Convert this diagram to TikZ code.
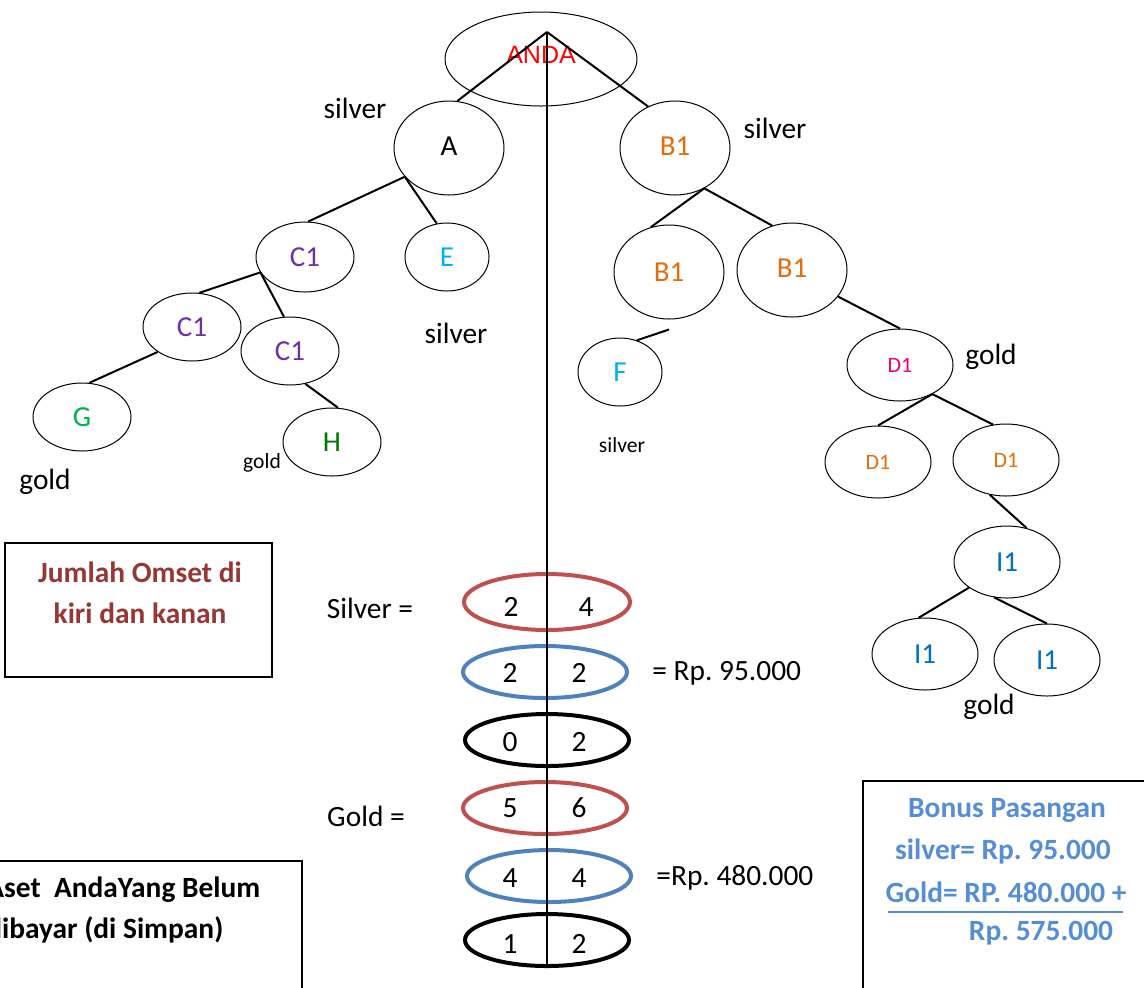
\documentclass[tikz,border=0pt]{standalone}
\usepackage{fontspec}
\setmainfont{Carlito}
\newfontfamily\arialf{Liberation Sans}
\usetikzlibrary{shapes.geometric}
\frenchspacing
\definecolor{andared}{RGB}{255,0,0}
\definecolor{borange}{RGB}{228,108,10}
\definecolor{cpurple}{RGB}{112,48,160}
\definecolor{ecyan}{RGB}{0,176,240}
\definecolor{ggreen}{RGB}{0,176,80}
\definecolor{hgreen}{RGB}{0,120,0}
\definecolor{dpink}{RGB}{240,0,120}
\definecolor{iblue}{RGB}{0,112,192}
\definecolor{jred}{RGB}{149,55,53}
\definecolor{bblue}{RGB}{85,142,213}
\definecolor{ringred}{RGB}{192,80,77}
\definecolor{ringblue}{RGB}{79,129,189}
\begin{document}
\frenchspacing
\begin{tikzpicture}[x=0.5pt,y=-0.5pt,
  tn/.style={ellipse, draw, line width=0.5pt, inner sep=0pt, font=\fontsize{14.5}{17}\selectfont},
  big/.style={minimum width=55pt, minimum height=47pt},
  mid/.style={minimum width=49pt, minimum height=34pt},
  sml/.style={minimum width=42pt, minimum height=34pt},
  dn/.style={minimum width=53pt, minimum height=36pt},
  dfont/.style={font=\fontsize{11}{13}\selectfont},
  conn/.style={line width=1pt},
  lbl/.style={font=\fontsize{14.7}{17}\selectfont, inner sep=0pt},
  slbl/.style={font=\fontsize{10.8}{13}\selectfont, inner sep=0pt},
  ring/.style={ellipse, draw, line width=2pt, inner sep=0pt, minimum width=82pt, minimum height=26pt},
  num/.style={font=\fontsize{14.7}{17}\selectfont, inner sep=0pt},
  boxtxt/.style={font=\fontsize{14.7}{20.5}\selectfont\bfseries, inner sep=0pt},
]
\useasboundingbox (0,0) rectangle (1144,987);
\clip (0,0) rectangle (1144,987);

% tree nodes
\node[tn, minimum width=96pt, minimum height=47pt, text=andared, font=\arialf\fontsize{12.5}{15}\selectfont, text depth=4pt] (anda) at (541,59) {ANDA};
\node[tn, big, text depth=2pt] (A) at (449,148) {A};
\node[tn, big, text=borange, text depth=2pt] (B1t) at (675,148) {B1};
\node[tn, mid, minimum height=35pt, text=cpurple] (C1) at (305,257) {C1};
\node[tn, sml, text=ecyan] (E) at (447,257) {E};
\node[tn, mid, text=cpurple] (C1L) at (192,327) {C1};
\node[tn, mid, text=cpurple] (C1R) at (290,351) {C1};
\node[tn, mid, text=ggreen] (G) at (82,417) {G};
\node[tn, mid, text=hgreen] (H) at (332,442) {H};
\node[tn, big, text=borange] (B1L) at (669,272) {B1};
\node[tn, big, text=borange, text depth=2pt] (B1R) at (792,270) {B1};
\node[tn, sml, text=ecyan] (F) at (620,372) {F};
\node[tn, dn, dfont, text=dpink] (D1) at (900,365) {D1};
\node[tn, dn, dfont, text=borange] (D1L) at (878,462) {D1};
\node[tn, dn, dfont, text=borange] (D1R) at (1006,460) {D1};
\node[tn, dn, text=iblue] (I1) at (1007,562) {I1};
\node[tn, dn, text=iblue] (I1L) at (925,654) {I1};
\node[tn, dn, text=iblue] (I1R) at (1047,660) {I1};

% rings
\node[ring, draw=ringred, minimum width=83pt, minimum height=28pt] (r1) at (547,602) {};
\node[ring, draw=ringblue] (r2) at (545,672) {};
\node[ring, draw=black] (r3) at (547,740) {};
\node[ring, draw=ringred] (r4) at (545,808) {};
\node[ring, draw=ringblue] (r5) at (549,876) {};
\node[ring, draw=black] (r6) at (547,940) {};

\node[num] (n1a) at (511,607) {2};
\node[num] (n1b) at (586,607) {4};
\node[num] (n2a) at (510,673) {2};
\node[num] (n2b) at (579,673) {2};
\node[num] (n3a) at (510,742) {0};
\node[num] (n3b) at (579,742) {2};
\node[num] (n4a) at (510,808) {5};
\node[num] (n4b) at (579,808) {6};
\node[num] (n5a) at (510,878) {4};
\node[num] (n5b) at (579,878) {4};
\node[num] (n6a) at (510,944) {1};
\node[num] (n6b) at (579,944) {2};

% connectors
\coordinate (apex) at (547,32);
\coordinate (vend) at (547,965);
\draw[conn] (apex) -- (A.80);
\draw[conn] (apex) -- (B1t.123);
\draw[conn] (apex) -- (vend);
\draw[conn] (A.213) -- (C1.85);
\draw[conn] (A.213) -- (E.107);
\draw[conn] (C1.199) -- (C1L.78);
\draw[conn] (C1.199) -- (C1R.100);
\draw[conn] (C1L.216) -- (G.78);
\draw[conn] (C1R.295) -- (H.80);
\draw[conn] (B1t.306) -- (B1L.112);
\draw[conn] (B1t.306) -- (B1R.114);
\draw[conn] ([yshift=-5pt]B1L.south) -- (F.62);
\draw[conn] (B1R.330) -- (D1.north);
\draw[conn] (D1.318) -- (D1L.north);
\draw[conn] (D1.318) -- (D1R.110);
\draw[conn] (D1R.245) -- (I1.60);
\draw[conn] (I1.214) -- (I1L.100);
\draw[conn] (I1.250) -- (I1R.north);

% labels
\node[lbl] (l1) at (355,108) {silver};
\node[lbl] (l2) at (775,128) {silver};
\node[lbl] (l3) at (456,333) {silver};
\node[lbl] (l4) at (45,482) {gold};
\node[slbl] (l5) at (262,463) {gold};
\node[slbl] (l6) at (622,445) {silver};
\node[lbl] (l7) at (991,357) {gold};
\node[lbl] (l8) at (989,707) {gold};
\node[lbl] (sv) at (370,608) {Silver =};
\node[lbl] (gd) at (366,816) {Gold =};
\node[lbl, anchor=west] (rp1) at (652,673) {= Rp. 95.000};
\node[lbl, anchor=west] (rp2) at (656,878) {=Rp. 480.000};

% boxes
\draw[line width=0.6pt] (5,543) rectangle (272,677);
\node[boxtxt, text=jred, align=center] (jt) at (140,593) {Jumlah Omset di\\kiri dan kanan};

\draw[line width=0.6pt] (-100,861) rectangle (302,1100);
\node[boxtxt, align=left, anchor=west] (at) at (-14,910) {Aset\ \ AndaYang Belum\\dibayar (di Simpan)};

\draw[line width=0.6pt] (863,781) rectangle (1200,1100);
\node[boxtxt, text=bblue] (b1) at (1007,810) {Bonus Pasangan};
\node[boxtxt, text=bblue] (b2) at (1003,851) {silver= Rp. 95.000};
\node[boxtxt, text=bblue] (b3) at (1006,892) {Gold= RP. 480.000 +};
\draw[bblue, line width=1pt] (888,912) -- (1123,912);
\node[boxtxt, text=bblue] (b4) at (1041,933) {Rp. 575.000};
\end{tikzpicture}
\end{document}
